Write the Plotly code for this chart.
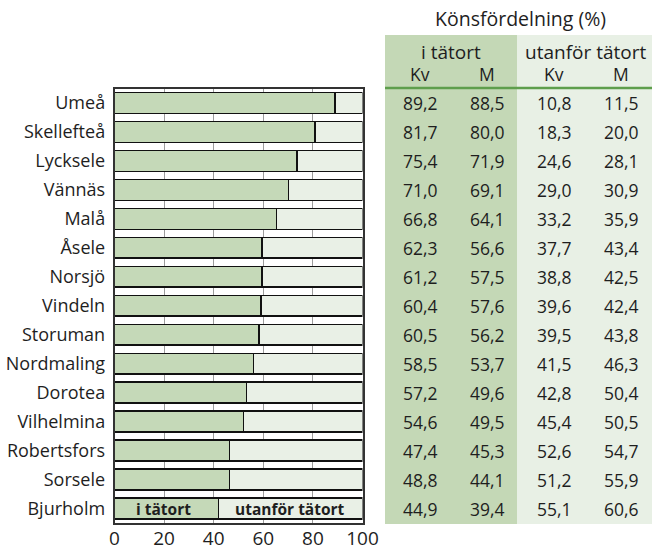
import plotly.graph_objects as go

kommuner = ["Umeå", "Skellefteå", "Lycksele", "Vännäs", "Malå", "Åsele", "Norsjö",
            "Vindeln", "Storuman", "Nordmaling", "Dorotea", "Vilhelmina",
            "Robertsfors", "Sorsele", "Bjurholm"]
i_tatort = [88.9, 80.8, 73.6, 70.1, 65.4, 59.4, 59.4, 59.0, 58.3, 56.0, 53.3, 52.1, 46.3, 46.3, 42.0]
utanfor = [11.1, 19.2, 26.4, 29.9, 34.6, 40.6, 40.6, 41.0, 41.7, 44.0, 46.7, 47.9, 53.7, 53.7, 58.0]

kv_i = ["89,2", "81,7", "75,4", "71,0", "66,8", "62,3", "61,2", "60,4", "60,5", "58,5", "57,2", "54,6", "47,4", "48,8", "44,9"]
m_i = ["88,5", "80,0", "71,9", "69,1", "64,1", "56,6", "57,5", "57,6", "56,2", "53,7", "49,6", "49,5", "45,3", "44,1", "39,4"]
kv_u = ["10,8", "18,3", "24,6", "29,0", "33,2", "37,7", "38,8", "39,6", "39,5", "41,5", "42,8", "45,4", "52,6", "51,2", "55,1"]
m_u = ["11,5", "20,0", "28,1", "30,9", "35,9", "43,4", "42,5", "42,4", "43,8", "46,3", "50,4", "50,5", "54,7", "55,9", "60,6"]
x_ticks = [0, 20, 40, 60, 80, 100]

W, H = 654, 548
def px(x):
    return x / W
def py(y):
    return 1 - y / H

GREEN = "#c5d9b8"
LIGHT = "#e9f0e6"
TXT = "#1e1e1e"
FONT = "Open Sans"

fig = go.Figure()
fig.add_trace(go.Bar(
    y=kommuner, x=i_tatort, orientation="h",
    marker=dict(color=GREEN, line=dict(color="#111", width=1.5)),
    width=0.72, showlegend=False, hoverinfo="skip"))
fig.add_trace(go.Bar(
    y=kommuner, x=utanfor, orientation="h",
    marker=dict(color=LIGHT, line=dict(color="#111", width=1.5)),
    width=0.72, showlegend=False, hoverinfo="skip"))

shapes = [
    dict(type="rect", xref="paper", yref="paper", x0=px(385), x1=px(517), y0=py(524), y1=py(35),
         fillcolor="#c4d8b6", line=dict(width=0), layer="below"),
    dict(type="rect", xref="paper", yref="paper", x0=px(517), x1=px(652), y0=py(524), y1=py(35),
         fillcolor="#e8f0e5", line=dict(width=0), layer="below"),
    dict(type="line", xref="paper", yref="paper", x0=px(385), x1=px(652), y0=py(88), y1=py(88),
         line=dict(color="#5e9e4c", width=2.5)),
]

def A(text, x, y, size, xref="paper", yref="paper", bold=False):
    return dict(text=f"<b>{text}</b>" if bold else text, x=x, y=y, xref=xref, yref=yref,
                xanchor="center", yanchor="middle", showarrow=False,
                font=dict(family=FONT, size=size, color=TXT))

ann = []
ann.append(A("Könsfördelning (%)", px(520), py(18), 19.5))
ann.append(A("i tätort", px(451), py(52), 19))
ann.append(A("utanför tätort", px(585), py(52), 19))
for lab, xc in [("Kv", 420), ("M", 487), ("Kv", 554), ("M", 621)]:
    ann.append(A(lab, px(xc), py(74), 17.5))
for col, xc in [(kv_i, 420), (m_i, 487), (kv_u, 554), (m_u, 621)]:
    for k, v in zip(kommuner, col):
        ann.append(A(v, px(xc), k, 17.5, yref="y"))
# legend-like labels inside the last bar
ann.append(A("i tätort", 19.6, kommuner[-1], 15.5, xref="x", yref="y", bold=True))
ann.append(A("utanför tätort", 70.8, kommuner[-1], 15.5, xref="x", yref="y", bold=True))

fig.update_layout(
    width=W, height=H, barmode="stack",
    margin=dict(l=0, r=0, t=0, b=0),
    paper_bgcolor="white", plot_bgcolor="white",
    font=dict(family=FONT, color=TXT),
    shapes=shapes, annotations=ann,
    xaxis=dict(domain=[px(114.5), px(362.5)], range=[0, 100], tickvals=x_ticks,
               ticktext=[str(t) for t in x_ticks], tickfont=dict(size=19, color=TXT),
               showgrid=True, gridcolor="#9c9c9c", gridwidth=1, zeroline=False,
               showline=True, linecolor="#333", linewidth=1.5, mirror=True, ticks="",
               automargin=False, ticklabelstandoff=-3),
    yaxis=dict(domain=[py(523), py(88.5)], categoryorder="array", categoryarray=kommuner,
               autorange="reversed", tickfont=dict(size=18, color=TXT), ticks="",
               showline=True, linecolor="#333", linewidth=1.5, mirror=True,
               showgrid=False, automargin=False, ticklabelstandoff=4),
)

fig.write_html("out.html", config={"displayModeBar": False},
               post_script="document.body.style.margin='0';document.body.style.overflow='hidden';")
